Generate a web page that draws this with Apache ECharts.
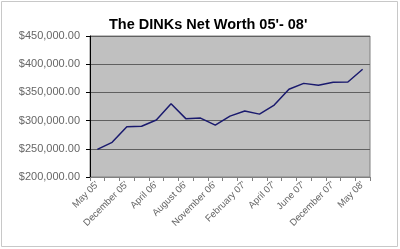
<!DOCTYPE html>
<html><head><meta charset="utf-8">
<style>html,body{margin:0;padding:0;background:#fff}#c{width:400px;height:249px}</style>
<script src="https://cdn.jsdelivr.net/npm/echarts@6/dist/echarts.min.js"></script>
</head><body><div id="c"></div>
<script>
var categories = ["May 05'","September 05'","December 05'","February 06'","April 06'","June 06'","August 06'","October 06'","November 06'","January 07'","February 07'","March 07'","April 07'","May 07'","June 07'","September 07'","December 07'","March 08'","May 08'"];
var netWorth = [249000,261500,289000,290000,301000,330000,303500,304500,292000,308000,317000,311500,327500,355500,366000,362500,368000,368500,391000];
var yTicks = {min:200000, max:450000, interval:50000};

var chart = echarts.init(document.getElementById('c'), null, {renderer:'canvas'});
chart.setOption({
  animation:false,
  backgroundColor:'#ffffff',
  title:{text:"The DINKs Net Worth 05'- 08'", left:104, top:12,
    textStyle:{fontFamily:'Liberation Sans, Arial', fontWeight:'bold', fontSize:14.5, color:'#000'}},
  grid:{left:90, right:30, top:36, bottom:72, show:true, backgroundColor:'#c0c0c0', borderColor:'#808080', borderWidth:1},
  xAxis:{type:'category', data:categories, boundaryGap:true,
    axisLine:{lineStyle:{color:'#808080', width:1}},
    axisTick:{show:true, interval:0, length:4, lineStyle:{color:'#808080'}},
    axisLabel:{interval:1, rotate:45, fontSize:9.5, color:'#666', fontFamily:'Liberation Sans, Arial', margin:6},
    splitLine:{show:false}},
  yAxis:{type:'value', min:yTicks.min, max:yTicks.max, interval:yTicks.interval,
    axisLine:{show:true, lineStyle:{color:'#000', width:1}},
    axisTick:{show:true, length:4, lineStyle:{color:'#000'}},
    axisLabel:{fontSize:11, color:'#666', fontFamily:'Liberation Sans, Arial', margin:10,
      formatter:function(v){return '$'+v.toLocaleString('en-US',{minimumFractionDigits:2,maximumFractionDigits:2});}},
    splitLine:{show:true, lineStyle:{color:'#606060', width:1}}},
  series:[{type:'line', data:netWorth, symbol:'none', lineStyle:{color:'#1a1a6e', width:1.5}}],
  graphic:[{type:'rect', shape:{x:1.5,y:1.5,width:396,height:245}, style:{fill:'none', stroke:'#c8c8c8', lineWidth:1}, silent:true}]
});
</script></body></html>
